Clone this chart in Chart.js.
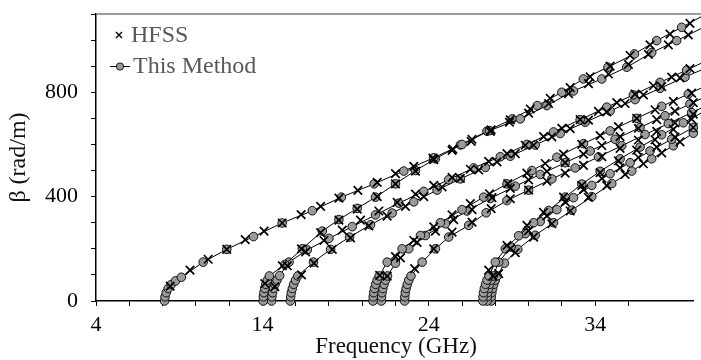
<!DOCTYPE html>
<html>
<head>
<meta charset="utf-8">
<title>Dispersion curves</title>
<script src="https://cdn.jsdelivr.net/npm/chart.js@4.4.1/dist/chart.umd.min.js"></script>
<style>
  html, body { margin: 0; padding: 0; background: #fff; }
  #wrap { width: 701px; height: 360px; position: relative; }
</style>
</head>
<body>
<div id="wrap"><canvas id="chart" width="701" height="360"></canvas></div>
<script>
// Phase constant beta (rad/m) versus frequency (GHz) for each mode.
// "m" arrays: this method (circles joined by a line); "h" arrays: HFSS (crosses).

const modeA_mFreq = [8.12, 8.15, 8.22, 8.34, 8.52, 8.78, 9.13, 10.44, 11.86, 13.47, 15.19, 17.0, 18.75, 20.72, 22.5, 24.3, 26.0, 27.65, 29.5, 31.1, 32.7, 34.4, 35.9, 37.4, 38.9, 40.4];
const modeA_mBeta = [0, 16, 32, 48, 63, 77, 91, 149, 198, 247, 299, 346, 398, 449, 498, 549, 600, 653, 698, 749, 805, 851, 896, 952, 998, 1045];
const modeA_hFreq = [8.46, 9.65, 10.74, 11.86, 12.97, 14.1, 15.19, 16.33, 17.5, 18.6, 19.74, 20.9, 22.0, 23.1, 24.25, 25.4, 26.55, 27.7, 28.85, 30.0, 31.2, 32.4, 33.6, 34.8, 36.0, 37.2, 38.4, 39.6];
const modeA_hBeta = [57, 118, 160, 198, 235, 268, 299, 331, 363, 394, 424, 455, 488, 516, 548, 577, 612, 650, 685, 720, 757, 795, 833, 870, 907, 945, 982, 1020];

const modeB1_mFreq = [14.05, 14.06, 14.09, 14.14, 14.21, 14.3, 14.42, 15.35, 16.4, 17.6, 18.6, 19.7, 20.8, 22.0, 23.2, 24.4, 25.9, 27.5, 29.03, 30.52, 32.0, 33.29, 34.77, 36.36, 37.7, 39.2, 40.5];
const modeB1_mBeta = [0, 16, 32, 48, 64, 80, 96, 140, 200, 268, 312, 355, 398, 449, 500, 545, 598, 651, 698, 749, 800, 851, 896, 947, 998, 1049, 1094];
const modeB1_hFreq = [14.15, 15.2, 16.35, 17.5, 18.6, 19.7, 20.9, 22.0, 23.2, 24.3, 25.45, 26.6, 27.75, 28.9, 30.1, 31.3, 32.5, 33.7, 34.9, 36.1, 37.3, 38.5, 39.7];
const modeB1_hBeta = [67, 135, 200, 262, 310, 352, 400, 449, 498, 542, 582, 620, 656, 694, 736, 777, 818, 859, 900, 941, 982, 1023, 1064];

const modeB2_mFreq = [14.55, 14.57, 14.61, 14.67, 14.76, 14.88, 15.04, 15.6, 16.7, 18.0, 19.4, 20.8, 22.2, 23.7, 25.2, 26.7, 28.3, 29.9, 31.5, 33.1, 34.7, 36.3, 37.9, 39.5, 41.0];
const modeB2_mBeta = [0, 16, 32, 48, 64, 80, 97, 149, 196, 240, 285, 330, 375, 420, 465, 510, 553, 600, 648, 695, 743, 790, 838, 885, 930];
const modeB2_hFreq = [14.75, 15.5, 16.6, 17.7, 18.8, 19.9, 21.0, 22.1, 23.2, 24.3, 25.4, 26.5, 27.6, 28.7, 29.8, 30.9, 32.0, 33.1, 34.2, 35.3, 36.4, 37.5, 38.6, 39.7];
const modeB2_hBeta = [55, 135, 188, 232, 272, 310, 345, 378, 410, 443, 474, 505, 535, 565, 597, 630, 662, 695, 727, 760, 793, 825, 858, 891];

const modeB3_mFreq = [15.68, 15.7, 15.74, 15.8, 15.88, 15.99, 16.13, 17.07, 18.1, 19.24, 20.5, 21.8, 23.1, 24.5, 25.9, 27.4, 28.9, 30.4, 31.9, 33.4, 34.9, 36.4, 37.9, 39.4, 40.9];
const modeB3_mBeta = [0, 16, 32, 48, 64, 80, 96, 149, 198, 245, 292, 337, 380, 425, 468, 512, 555, 598, 642, 685, 728, 772, 815, 858, 900];
const modeB3_hFreq = [16.35, 17.1, 18.2, 19.3, 20.4, 21.5, 22.6, 23.7, 24.8, 25.9, 27.0, 28.1, 29.2, 30.3, 31.4, 32.5, 33.6, 34.7, 35.8, 36.9, 38.0, 39.1];
const modeB3_hBeta = [100, 145, 198, 242, 288, 325, 363, 400, 437, 470, 502, 533, 565, 597, 629, 661, 693, 725, 757, 790, 822, 855];

const modeC1_mFreq = [20.65, 20.66, 20.69, 20.74, 20.81, 20.9, 21.02, 21.5, 22.4, 23.5, 24.7, 26.0, 27.3, 28.7, 30.2, 31.7, 33.3, 34.9, 36.5, 38.0, 39.6, 41.1];
const modeC1_mBeta = [0, 16, 32, 48, 64, 80, 96, 149, 200, 251, 300, 350, 398, 449, 500, 551, 603, 652, 700, 746, 793, 838];
const modeC1_hFreq = [21.05, 22.0, 23.1, 24.3, 25.4, 26.5, 27.65, 28.75, 29.9, 31.0, 32.1, 33.2, 34.3, 35.4, 36.5, 37.6, 38.7, 39.8];
const modeC1_hBeta = [98, 170, 232, 284, 330, 373, 411, 450, 490, 527, 563, 600, 634, 668, 700, 733, 765, 797];

const modeC2_mFreq = [21.15, 21.16, 21.19, 21.24, 21.31, 21.4, 21.52, 22.0, 22.8, 23.8, 25.0, 26.3, 27.7, 29.2, 30.7, 32.2, 33.7, 35.2, 36.7, 38.2, 39.7, 41.2];
const modeC2_mBeta = [0, 16, 32, 48, 64, 80, 96, 145, 200, 251, 296, 345, 393, 440, 485, 530, 575, 620, 665, 710, 755, 800];
const modeC2_hFreq = [21.5, 22.3, 23.3, 24.4, 25.5, 26.6, 27.8, 28.9, 30.0, 31.1, 32.2, 33.3, 34.4, 35.5, 36.6, 37.7, 38.8, 39.9];
const modeC2_hBeta = [95, 165, 225, 268, 312, 350, 396, 432, 464, 497, 530, 563, 596, 630, 662, 695, 728, 760];

const modeC3_mFreq = [22.55, 22.56, 22.59, 22.64, 22.71, 22.8, 22.93, 23.6, 24.4, 25.2, 26.4, 27.45, 28.7, 30.0, 31.4, 32.8, 34.2, 35.6, 37.0, 38.4, 39.8, 41.2];
const modeC3_mBeta = [0, 16, 32, 48, 64, 80, 96, 149, 200, 245, 290, 338, 385, 425, 468, 510, 552, 595, 638, 680, 722, 764];
const modeC3_hFreq = [23.15, 24.3, 25.4, 26.6, 27.75, 28.9, 30.0, 31.1, 32.2, 33.3, 34.4, 35.5, 36.6, 37.7, 38.8, 39.9];
const modeC3_hBeta = [124, 200, 264, 302, 354, 392, 425, 459, 490, 520, 553, 585, 617, 650, 683, 716];

const modeD1_mFreq = [27.25, 27.26, 27.29, 27.34, 27.41, 27.5, 27.62, 28.0, 28.6, 29.4, 30.3, 31.2, 32.2, 33.2, 34.3, 35.5, 36.7, 38.0, 39.3, 40.6];
const modeD1_mBeta = [0, 16, 32, 48, 64, 80, 96, 149, 200, 250, 300, 347, 398, 448, 497, 545, 590, 637, 683, 728];
const modeD1_hFreq = [27.6, 28.7, 29.9, 30.9, 32.1, 33.2, 34.3, 35.4, 36.5, 37.6, 38.7, 39.8];
const modeD1_hBeta = [118, 213, 290, 340, 398, 443, 492, 537, 578, 618, 658, 697];

const modeD2_mFreq = [27.5, 27.51, 27.54, 27.59, 27.66, 27.75, 27.87, 28.2, 28.95, 29.8, 30.7, 31.7, 32.7, 33.8, 34.9, 36.1, 37.3, 38.6, 39.9, 41.2];
const modeD2_mBeta = [0, 16, 32, 48, 64, 80, 96, 149, 207, 258, 305, 350, 396, 443, 488, 530, 575, 620, 665, 710];
const modeD2_hFreq = [27.85, 28.9, 30.0, 31.1, 32.2, 33.3, 34.4, 35.5, 36.6, 37.7, 38.8, 39.9];
const modeD2_hBeta = [95, 200, 270, 326, 380, 428, 470, 510, 550, 590, 628, 665];

const modeD3_mFreq = [27.75, 27.76, 27.79, 27.84, 27.91, 28.0, 28.12, 28.55, 29.35, 30.4, 31.5, 32.6, 33.8, 35.0, 36.2, 37.4, 38.7, 39.9, 41.1];
const modeD3_mBeta = [0, 16, 32, 48, 64, 80, 96, 145, 198, 252, 300, 348, 400, 450, 498, 545, 595, 643, 690];
const modeD3_hFreq = [28.2, 29.2, 30.3, 31.4, 32.5, 33.6, 34.7, 35.8, 36.9, 38.0, 39.1];
const modeD3_hBeta = [105, 185, 245, 296, 345, 397, 442, 485, 526, 568, 610];

// Axis ticks and labels
const xLabelTicks = [4, 14, 24, 34];
const yLabelTicks = [0, 400, 800];
const legendLabels = ['HFSS', 'This Method'];
const xTitle = 'Frequency (GHz)';
const yTitle = 'β (rad/m)';

const SERIF = '"Liberation Serif", "Times New Roman", serif';
const CIRCLE_FILL = '#9b9b9b';

const modes = [
  [modeA_mFreq, modeA_mBeta, modeA_hFreq, modeA_hBeta],
  [modeB1_mFreq, modeB1_mBeta, modeB1_hFreq, modeB1_hBeta],
  [modeB2_mFreq, modeB2_mBeta, modeB2_hFreq, modeB2_hBeta],
  [modeB3_mFreq, modeB3_mBeta, modeB3_hFreq, modeB3_hBeta],
  [modeC1_mFreq, modeC1_mBeta, modeC1_hFreq, modeC1_hBeta],
  [modeC2_mFreq, modeC2_mBeta, modeC2_hFreq, modeC2_hBeta],
  [modeC3_mFreq, modeC3_mBeta, modeC3_hFreq, modeC3_hBeta],
  [modeD1_mFreq, modeD1_mBeta, modeD1_hFreq, modeD1_hBeta],
  [modeD2_mFreq, modeD2_mBeta, modeD2_hFreq, modeD2_hBeta],
  [modeD3_mFreq, modeD3_mBeta, modeD3_hFreq, modeD3_hBeta]
];

const toPoints = (fs, bs) => fs.map((f, i) => ({ x: f, y: bs[i] }));

const datasets = [];
modes.forEach(([mf, mb, hf, hb]) => {
  datasets.push({
    label: legendLabels[0],
    data: toPoints(hf, hb),
    showLine: false,
    pointStyle: 'crossRot',
    pointRadius: 6,
    pointBorderWidth: 1.7,
    pointBorderColor: '#000',
    pointBackgroundColor: '#000',
    clip: false,
    order: 0
  });
  datasets.push({
    label: legendLabels[1],
    data: toPoints(mf, mb),
    showLine: true,
    borderColor: '#000',
    borderWidth: 1,
    tension: 0,
    pointStyle: 'circle',
    pointRadius: 4.3,
    pointBackgroundColor: CIRCLE_FILL,
    pointBorderColor: '#000',
    pointBorderWidth: 0.9,
    clip: false,
    order: 1
  });
});

// Gray frame line along the top of the plot area
const topFrame = {
  id: 'topFrame',
  afterDraw(chart) {
    const { ctx, chartArea: a } = chart;
    ctx.save();
    ctx.strokeStyle = '#7a7a7a';
    ctx.lineWidth = 1.6;
    ctx.beginPath();
    ctx.moveTo(a.left, a.top);
    ctx.lineTo(chart.width, a.top);
    ctx.stroke();
    ctx.restore();
  }
};

// Legend in the upper-left corner of the plot
const insetLegend = {
  id: 'insetLegend',
  afterDraw(chart) {
    const ctx = chart.ctx;
    ctx.save();
    ctx.strokeStyle = '#000';
    ctx.lineWidth = 1.4;
    ctx.beginPath();
    ctx.moveTo(116, 32); ctx.lineTo(122, 38);
    ctx.moveTo(116, 38); ctx.lineTo(122, 32);
    ctx.stroke();
    ctx.lineWidth = 1;
    ctx.beginPath();
    ctx.moveTo(110, 66.5); ctx.lineTo(130, 66.5);
    ctx.stroke();
    ctx.beginPath();
    ctx.arc(120, 66.5, 3.6, 0, Math.PI * 2);
    ctx.fillStyle = CIRCLE_FILL;
    ctx.fill();
    ctx.lineWidth = 0.9;
    ctx.stroke();
    ctx.fillStyle = '#585858';
    ctx.font = '24px ' + SERIF;
    ctx.textBaseline = 'alphabetic';
    ctx.textAlign = 'left';
    ctx.fillText(legendLabels[0], 131, 42);
    ctx.fillText(legendLabels[1], 133, 73);
    ctx.restore();
  }
};

// Axis titles
const axisTitles = {
  id: 'axisTitles',
  afterDraw(chart) {
    const { ctx, chartArea: a } = chart;
    ctx.save();
    ctx.fillStyle = '#111';
    ctx.font = '23px ' + SERIF;
    ctx.textAlign = 'center';
    ctx.textBaseline = 'alphabetic';
    ctx.fillText(xTitle, 396, 353);
    ctx.translate(25, (a.top + a.bottom) / 2);
    ctx.rotate(-Math.PI / 2);
    ctx.font = '24px ' + SERIF;
    ctx.fillText(yTitle, 0, 0);
    ctx.restore();
  }
};

new Chart(document.getElementById('chart'), {
  type: 'scatter',
  data: { datasets },
  options: {
    responsive: false,
    animation: false,
    devicePixelRatio: 1,
    layout: { padding: { top: 14, right: 0, left: 0, bottom: 0 } },
    plugins: { legend: { display: false }, tooltip: { enabled: false } },
    scales: {
      x: {
        type: 'linear',
        min: 4,
        max: 39.9,
        afterBuildTicks: s => { s.ticks = s.ticks.filter(t => Math.abs(t.value / 2 - Math.round(t.value / 2)) < 1e-6); },
        afterFit: s => { s.height = 59; s.paddingLeft = 0; s.paddingRight = 0; },
        ticks: {
          stepSize: 2,
          autoSkip: false,
          maxRotation: 0,
          padding: 6,
          color: '#000',
          font: { family: SERIF, size: 22 },
          callback: v => (xLabelTicks.includes(v) ? String(v) : '')
        },
        grid: { drawOnChartArea: false, drawTicks: true, tickLength: 5, color: '#000', lineWidth: 1 },
        border: { display: true, color: '#000', width: 1.5 }
      },
      y: {
        type: 'linear',
        min: 0,
        max: 1100,
        afterFit: s => { s.width = 96; s.paddingTop = 0; s.paddingBottom = 0; },
        ticks: {
          stepSize: 100,
          autoSkip: false,
          padding: 13,
          color: '#000',
          font: { family: SERIF, size: 22 },
          callback: v => (yLabelTicks.includes(v) ? String(v) : '')
        },
        grid: { drawOnChartArea: false, drawTicks: true, tickLength: 5, color: '#000', lineWidth: 1 },
        border: { display: true, color: '#000', width: 1.5 }
      }
    }
  },
  plugins: [topFrame, insetLegend, axisTitles]
});
</script>
</body>
</html>
